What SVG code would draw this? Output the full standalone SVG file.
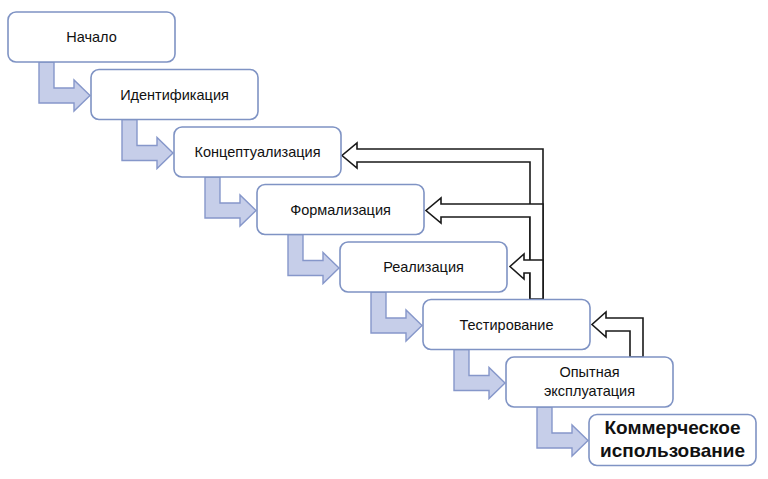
<svg xmlns="http://www.w3.org/2000/svg" width="768" height="479" viewBox="0 0 768 479">
<defs>
<style>
.box{fill:#ffffff;stroke:#7f93c4;stroke-width:1.6}
.t{font-family:"Liberation Sans",Arial,sans-serif;font-size:14.5px;fill:#111;text-anchor:middle}
.tb{font-family:"Liberation Sans",Arial,sans-serif;font-size:19px;font-weight:bold;fill:#111;text-anchor:middle}
.down{fill:#c6cee9;stroke:#8697ca;stroke-width:1.4;stroke-linejoin:miter}
.fb{fill:#ffffff;stroke:#1a1a1a;stroke-width:1.6;stroke-linejoin:miter}
</style>
<path id="da" d="M31,50 L46,50 L46,76 L66,76 L66,68 L82,83.5 L66,99 L66,91 L31,91 Z"/>
</defs>
<rect width="768" height="479" fill="#ffffff"/>
<g id="connectors">
<use href="#da" class="down" transform="translate(8,12)"/>
<use href="#da" class="down" transform="translate(91,69.5)"/>
<use href="#da" class="down" transform="translate(174,127)"/>
<use href="#da" class="down" transform="translate(257,184.5)"/>
<use href="#da" class="down" transform="translate(340,242)"/>
<use href="#da" class="down" transform="translate(423,299.5)"/>
<use href="#da" class="down" transform="translate(506,357)"/>
<path class="fb" d="M543,299 L543,149 L357,149 L357,143 L342,155.5 L357,168 L357,162 L530,162 L530,299 Z"/>
<path class="fb" d="M543,299 L543,204 L441,204 L441,198 L426,210.5 L441,223 L441,217 L530,217 L530,299 Z"/>
<path class="fb" d="M543,299 L543,260 L524,260 L524,254 L510,266.5 L524,279 L524,273 L530,273 L530,299 Z"/>
<path class="fb" d="M643,357 L643,318 L606,318 L606,312 L592,324.5 L606,337 L606,331 L630,331 L630,357 Z"/>
</g>
<g id="n1"><rect class="box" x="8" y="12" width="167" height="50" rx="8"/><text class="t" x="91.5" y="42">Начало</text></g>
<g id="n2"><rect class="box" x="91" y="69.5" width="167" height="50" rx="8"/><text class="t" x="174.5" y="99.5">Идентификация</text></g>
<g id="n3"><rect class="box" x="174" y="127" width="167" height="50" rx="8"/><text class="t" x="257.5" y="157">Концептуализация</text></g>
<g id="n4"><rect class="box" x="257" y="184.5" width="167" height="50" rx="8"/><text class="t" x="340.5" y="214.5">Формализация</text></g>
<g id="n5"><rect class="box" x="340" y="242" width="167" height="50" rx="8"/><text class="t" x="423.5" y="272">Реализация</text></g>
<g id="n6"><rect class="box" x="423" y="299.5" width="167" height="50" rx="8"/><text class="t" x="506.5" y="329.5">Тестирование</text></g>
<g id="n7"><rect class="box" x="506" y="357" width="167" height="50" rx="8"/><text class="t" x="589.5" y="377">Опытная</text><text class="t" x="589.5" y="396">эксплуатация</text></g>
<g id="n8"><rect class="box" x="589" y="414.5" width="167" height="51" rx="8"/><text class="tb" x="672.5" y="434">Коммерческое</text><text class="tb" x="672.5" y="457">использование</text></g>
</svg>
